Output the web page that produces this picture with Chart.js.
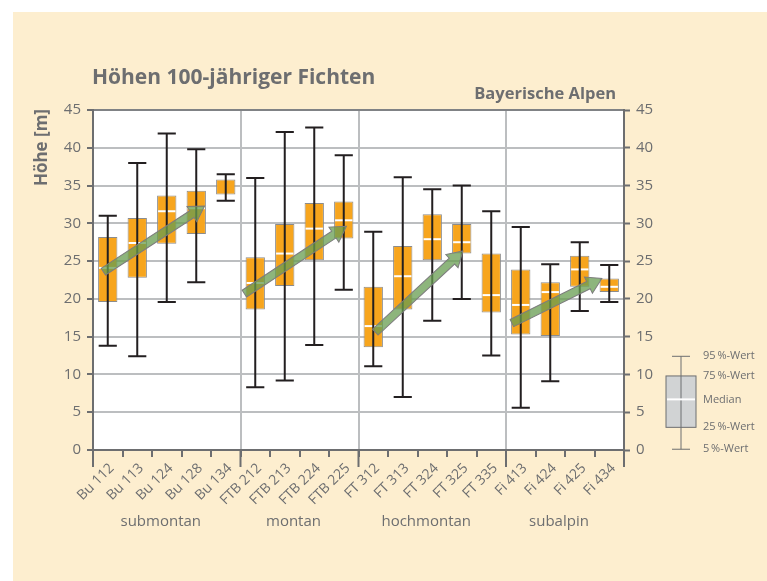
<!DOCTYPE html>
<html>
<head>
<meta charset="utf-8">
<script src="https://cdn.jsdelivr.net/npm/chart.js@4.4.0/dist/chart.umd.min.js"></script>
<style>
  html, body { margin: 0; padding: 0; background: #fff; }
  #wrap { width: 767px; height: 581px; }
</style>
</head>
<body>
<div id="wrap"><canvas id="chart"></canvas></div>
<script>
// stands (x axis)
const labels = ['Bu 112', 'Bu 113', 'Bu 124', 'Bu 128', 'Bu 134',
                'FTB 212', 'FTB 213', 'FTB 224', 'FTB 225',
                'FT 312', 'FT 313', 'FT 324', 'FT 325', 'FT 335',
                'Fi 413', 'Fi 424', 'Fi 425', 'Fi 434'];
const groups = ['submontan', 'montan', 'hochmontan', 'subalpin'];
const groupFirst = [0, 5, 9, 14];
const groupLast = [4, 8, 13, 17];

// heights in m
const p95    = [31.0, 38.0, 41.9, 39.8, 36.5, 36.0, 42.1, 42.7, 39.0, 28.9, 36.1, 34.5, 35.0, 31.6, 29.5, 24.6, 27.5, 24.5];
const q3     = [28.2, 30.7, 33.7, 34.3, 35.8, 25.5, 29.9, 32.7, 32.9, 21.6, 27.0, 31.2, 29.9, 26.0, 23.9, 22.2, 25.7, 22.7];
const median = [24.1, 27.4, 31.6, 32.0, null, 22.1, 26.0, 29.3, 30.4, 16.4, 23.0, 27.9, 27.5, 20.5, 19.2, 20.9, 23.9, 21.6];
const q1     = [19.6, 22.8, 27.3, 28.6, 33.8, 18.6, 21.7, 25.1, 28.0, 13.6, 18.6, 25.1, 26.0, 18.2, 15.3, 15.1, 21.6, 20.9];
const p5     = [13.8, 12.4, 19.6, 22.2, 33.0, 8.3, 9.2, 13.9, 21.2, 11.1, 7.0, 17.1, 20.0, 12.5, 5.6, 9.1, 18.4, 19.6];

// trend arrows: [category index, height]
const arrowFrom = [[-0.15, 23.6], [4.63, 20.7], [9.07, 15.6], [13.7, 16.8]];
const arrowTo   = [[3.28, 32.3], [8.09, 29.6], [12.04, 26.35], [16.75, 22.7]];

// key on the right
const keyLabels = ['95\u2009%-Wert', '75\u2009%-Wert', 'Median', '25\u2009%-Wert', '5\u2009%-Wert'];
const keyValues = [12.4, 9.8, 6.7, 3.0, 0.1];

const yTicks = [0, 5, 10, 15, 20, 25, 30, 35, 40, 45];

const grey = '#6d6e70';
Chart.defaults.font.family = "'Open Sans', sans-serif";
Chart.defaults.color = grey;

const decor = {
  id: 'decor',
  beforeDraw(chart) {
    const { ctx, chartArea: a } = chart;
    ctx.save();
    ctx.fillStyle = '#fff';
    ctx.fillRect(0, 0, chart.width, chart.height);
    ctx.fillStyle = '#fdeecf';
    ctx.fillRect(13, 12, chart.width - 13, chart.height - 12);
    ctx.fillStyle = '#fff';
    ctx.fillRect(a.left, a.top, a.right - a.left, a.bottom - a.top);
    ctx.restore();
  },
  afterDatasetsDraw(chart) {
    const { ctx } = chart;
    const x = chart.scales.x, y = chart.scales.y;
    const meta = chart.getDatasetMeta(0);
    ctx.save();
    // medians
    ctx.strokeStyle = '#fff';
    ctx.lineWidth = 2;
    meta.data.forEach((bar, i) => {
      if (median[i] === null) return;
      const py = y.getPixelForValue(median[i]);
      ctx.beginPath();
      ctx.moveTo(bar.x - bar.width / 2 + 1, py);
      ctx.lineTo(bar.x + bar.width / 2 - 1, py);
      ctx.stroke();
    });
    // whiskers
    ctx.strokeStyle = '#231f20';
    meta.data.forEach((bar, i) => {
      const top = y.getPixelForValue(p95[i]);
      const bot = y.getPixelForValue(p5[i]);
      const cap = bar.width * 0.47;
      ctx.beginPath();
      ctx.moveTo(bar.x, top); ctx.lineTo(bar.x, bot);
      ctx.moveTo(bar.x - cap, top); ctx.lineTo(bar.x + cap, top);
      ctx.moveTo(bar.x - cap, bot); ctx.lineTo(bar.x + cap, bot);
      ctx.stroke();
    });
    // arrows
    arrowFrom.forEach((f, i) => {
      const t = arrowTo[i];
      const x0 = x.getPixelForValue(f[0]), y0 = y.getPixelForValue(f[1]);
      const x1 = x.getPixelForValue(t[0]), y1 = y.getPixelForValue(t[1]);
      const len = Math.hypot(x1 - x0, y1 - y0);
      const hw = 4, hh = 9, hl = 15;
      ctx.save();
      ctx.translate(x0, y0);
      ctx.rotate(Math.atan2(y1 - y0, x1 - x0));
      ctx.beginPath();
      ctx.moveTo(0, -hw);
      ctx.lineTo(len - hl, -hw);
      ctx.lineTo(len - hl, -hh);
      ctx.lineTo(len, 0);
      ctx.lineTo(len - hl, hh);
      ctx.lineTo(len - hl, hw);
      ctx.lineTo(0, hw);
      ctx.closePath();
      ctx.fillStyle = 'rgba(103,156,80,0.75)';
      ctx.fill();
      ctx.strokeStyle = '#7d7d7d';
      ctx.lineWidth = 1;
      ctx.stroke();
      ctx.restore();
    });
    ctx.restore();
  },
  afterDraw(chart) {
    const { ctx, chartArea: a } = chart;
    const x = chart.scales.x, y2 = chart.scales.y2;
    ctx.save();
    // longer ticks at group borders
    ctx.strokeStyle = grey;
    ctx.lineWidth = 2;
    [-0.5].concat(groupLast.map(g => g + 0.5)).forEach(v => {
      const px = x.getPixelForValue(v);
      ctx.beginPath();
      ctx.moveTo(px, a.bottom); ctx.lineTo(px, a.bottom + 17);
      ctx.stroke();
    });
    // group names
    ctx.fillStyle = grey;
    ctx.font = "15px 'Open Sans'";
    ctx.textAlign = 'center';
    ctx.textBaseline = 'middle';
    groups.forEach((g, i) => {
      const px = x.getPixelForValue((groupFirst[i] + groupLast[i]) / 2) - 6;
      ctx.fillText(g, px, 522);
    });
    // titles
    ctx.textBaseline = 'alphabetic';
    ctx.textAlign = 'left';
    ctx.font = "bold 21px 'Open Sans'";
    ctx.fillText('Höhen 100-jähriger Fichten', 92, 84);
    ctx.textAlign = 'right';
    ctx.font = "bold 16.5px 'Open Sans'";
    ctx.fillText('Bayerische Alpen', 616, 99);
    ctx.save();
    ctx.translate(42, 109);
    ctx.rotate(-Math.PI / 2);
    ctx.font = "bold 17px 'Open Sans'";
    ctx.textBaseline = 'middle';
    ctx.fillText('Höhe [m]', 0, 0);
    ctx.restore();
    // key
    const cx = 681;
    const ky = keyValues.map(v => y2.getPixelForValue(v));
    ctx.strokeStyle = grey;
    ctx.lineWidth = 1;
    ctx.fillStyle = '#d1d3d4';
    ctx.fillRect(cx - 15, ky[1], 30, ky[3] - ky[1]);
    ctx.strokeRect(cx - 15, ky[1], 30, ky[3] - ky[1]);
    ctx.beginPath();
    ctx.moveTo(cx, ky[0]); ctx.lineTo(cx, ky[4]);
    ctx.moveTo(cx - 9, ky[0]); ctx.lineTo(cx + 9, ky[0]);
    ctx.moveTo(cx - 9, ky[4]); ctx.lineTo(cx + 9, ky[4]);
    ctx.stroke();
    ctx.strokeStyle = '#fff';
    ctx.lineWidth = 2;
    ctx.beginPath();
    ctx.moveTo(cx - 14, ky[2]); ctx.lineTo(cx + 14, ky[2]);
    ctx.stroke();
    ctx.fillStyle = grey;
    ctx.font = "11px 'Open Sans'";
    ctx.textAlign = 'left';
    ctx.textBaseline = 'middle';
    keyLabels.forEach((k, i) => ctx.fillText(k, 703, ky[i]));
    ctx.restore();
  }
};

new Chart(document.getElementById('chart'), {
  type: 'bar',
  data: {
    labels: labels,
    datasets: [{
      data: q1.map((v, i) => [v, q3[i]]),
      backgroundColor: '#f7a51d',
      borderColor: '#8c8c8c',
      borderWidth: 1,
      borderSkipped: false,
      barPercentage: 0.655,
      categoryPercentage: 1
    }]
  },
  options: {
    responsive: true,
    maintainAspectRatio: false,
    animation: false,
    layout: { padding: { top: 110, left: 0, right: 0, bottom: 0 } },
    plugins: { legend: { display: false }, tooltip: { enabled: false } },
    scales: {
      x: {
        afterFit(s) { s.height = 131; },
        grid: {
          offset: true,
          color: c => [5, 9, 14].includes(c.index) ? '#bcbec0' : 'transparent',
          lineWidth: 2,
          tickColor: grey,
          tickLength: 7,
          tickWidth: 2
        },
        border: { display: true, color: grey, width: 2 },
        ticks: {
          autoSkip: false, maxRotation: 45, minRotation: 45,
          font: { size: 14 }, color: grey, padding: 3, labelOffset: 4
        }
      },
      y: {
        min: 0, max: 45,
        afterFit(s) { s.width = 93; },
        afterBuildTicks(s) { s.ticks = yTicks.map(v => ({ value: v })); },
        grid: {
          color: c => c.tick.value === 45 ? '#808285' : (c.tick.value === 0 ? 'transparent' : '#bcbec0'),
          lineWidth: 2,
          tickColor: grey,
          tickLength: 6,
          tickWidth: 2
        },
        border: { display: true, color: grey, width: 2 },
        ticks: { font: { size: 15 }, color: grey, padding: 6 }
      },
      y2: {
        position: 'right',
        min: 0, max: 45,
        afterFit(s) { s.width = 143; },
        afterBuildTicks(s) { s.ticks = yTicks.map(v => ({ value: v })); },
        grid: { drawOnChartArea: false, tickColor: grey, tickLength: 6, tickWidth: 2 },
        border: { display: true, color: grey, width: 2 },
        ticks: { font: { size: 15 }, color: grey, padding: 6 }
      }
    }
  },
  plugins: [decor]
});
</script>
</body>
</html>
